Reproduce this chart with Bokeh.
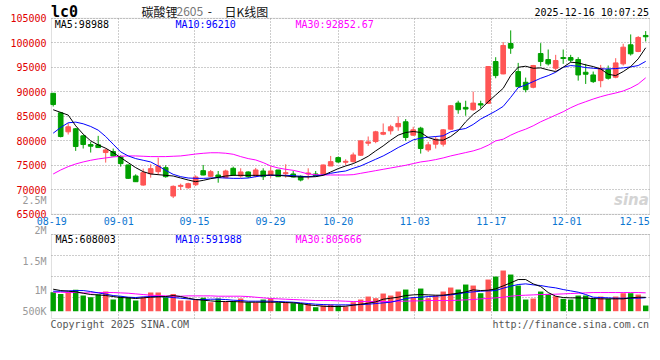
from bokeh.plotting import figure
from bokeh.models import Range1d, FixedTicker, Label, ColumnDataSource, Grid, BoxAnnotation
from bokeh.embed import file_html
from bokeh.resources import INLINE

# ---------------- data ----------------
dates = ["08-19", "08-20", "08-21", "08-22", "08-25", "08-26", "08-27", "08-28", "08-29",
         "09-01", "09-02", "09-03", "09-04", "09-05", "09-08", "09-09", "09-10", "09-11", "09-12",
         "09-15", "09-16", "09-17", "09-18", "09-19", "09-22", "09-23", "09-24", "09-25", "09-26",
         "09-29", "09-30", "10-09", "10-10", "10-13", "10-14", "10-15", "10-16", "10-17",
         "10-20", "10-21", "10-22", "10-23", "10-24", "10-27", "10-28", "10-29", "10-30", "10-31",
         "11-03", "11-04", "11-05", "11-06", "11-07", "11-10", "11-11", "11-12", "11-13", "11-14",
         "11-17", "11-18", "11-19", "11-20", "11-21", "11-24", "11-25", "11-26", "11-27", "11-28",
         "12-01", "12-02", "12-03", "12-04", "12-05", "12-08", "12-09", "12-10", "12-11", "12-12",
         "12-15", "12-16"]

opens = [89700, 85700, 81830, 82450, 81010, 79240, 79170, 77600, 77800, 76710,
         75070, 72820, 70970, 73290, 73700, 74520, 68720, 70700, 70420, 71040,
         73910, 72750, 73020, 72480, 74390, 72820, 73640, 72820, 73840, 72950,
         74050, 73290, 73230, 72750, 73230, 73230, 73160, 74860, 76570, 75620,
         75750, 77050, 79510, 79850, 81350, 82040, 82860, 83880, 81150, 82580,
         78140, 79310, 79310, 82380, 87700, 86820, 86340, 87570, 87640, 96180,
         93650, 99860, 94130, 91940, 90920, 97810, 96580, 94810, 96990, 96990,
         96580, 93990, 93440, 92280, 94540, 92970, 95700, 99590, 98220, 101500]
highs = [89700, 85900, 83600, 82600, 81220, 79780, 81010, 78420, 78420, 77050,
         75140, 73160, 74320, 75210, 76570, 75000, 70900, 71250, 71450, 72950,
         75070, 74050, 73840, 74110, 74730, 74390, 73770, 74460, 74390, 74730,
         74050, 75210, 73840, 72950, 74390, 73840, 75140, 76910, 76780, 76230,
         77600, 80000, 80880, 82040, 83540, 83270, 84970, 84430, 82860, 82860,
         79780, 80880, 82380, 87300, 88180, 88180, 90030, 88180, 95220, 97060,
         100140, 102530, 95900, 92900, 95490, 99930, 98630, 97540, 98630, 97540,
         97060, 95700, 94130, 95490, 95360, 96860, 99800, 101710, 101370, 102390]
lows = [87000, 80700, 81280, 77940, 78420, 77600, 78600, 75550, 76800, 74730,
        72200, 71600, 70830, 72470, 73020, 72470, 68310, 69950, 70220, 70770,
        72950, 72540, 71450, 72340, 72820, 72480, 72410, 72540, 72000, 72480,
        72610, 72470, 72540, 71720, 72130, 72820, 73160, 74860, 75480, 75070,
        75550, 76910, 78960, 79510, 81150, 81280, 82040, 79990, 81010, 77390,
        77730, 78420, 78830, 82310, 85520, 85110, 86130, 86610, 87500, 92760,
        93580, 97750, 91050, 89890, 90710, 95220, 95360, 94330, 95700, 96040,
        92280, 91600, 91800, 90920, 92490, 92760, 95360, 97400, 98090, 100270]
closes = [87400, 80870, 82860, 78830, 79240, 78900, 78620, 78140, 76910, 75340,
          72340, 71650, 73500, 74320, 74860, 72680, 70700, 70900, 71250, 72610,
          73020, 73700, 72540, 73840, 73020, 73640, 72680, 74050, 72680, 73840,
          72680, 73500, 72610, 72000, 73430, 72820, 75070, 75750, 75680, 75820,
          77120, 79990, 79780, 81830, 81700, 82860, 83540, 80670, 82240, 78420,
          79170, 80330, 82240, 87160, 86340, 86480, 87700, 87300, 95150, 93310,
          99450, 98910, 91050, 90440, 95360, 96180, 95700, 96380, 96790, 96450,
          93440, 93580, 92080, 94810, 92760, 95900, 99110, 97750, 101090, 101230]
volumes = [833000, 760000, 833000, 936000, 687000, 614000, 731000, 863000, 512000, 658000,
           614000, 468000, 614000, 819000, 819000, 614000, 760000, 468000, 468000, 497000,
           585000, 395000, 556000, 409000, 439000, 556000, 395000, 380000, 512000, 556000,
           380000, 380000, 351000, 322000, 322000, 175000, 249000, 292000, 249000, 205000,
           395000, 512000, 643000, 570000, 775000, 687000, 863000, 950000, 614000, 994000,
           570000, 687000, 863000, 1038000, 950000, 1170000, 1126000, 789000, 1389000, 1520000,
           1784000, 1608000, 1126000, 512000, 556000, 863000, 760000, 658000, 541000, 512000,
           687000, 687000, 541000, 643000, 541000, 643000, 789000, 789000, 731000, 249000]

ma5 = [86339, 85793, 85247, 83061, 81354, 79988, 79168, 78485, 77597, 76572,
       75548, 74524, 73704, 73226, 73089, 72953, 72816, 72406, 71996, 71655,
       71928, 72270, 72543, 72816, 72953, 72953, 72953, 72953, 72953, 73021,
       72953, 72816, 72680, 72611, 72611, 72680, 72953, 73636, 74319, 74865,
       75343, 76026, 76846, 77938, 78963, 80124, 81149, 81695, 81900, 81695,
       80670, 80192, 80124, 80875, 82037, 83881, 85384, 86476, 87979, 89345,
       90711, 93306, 95013, 95218, 94809, 94877, 94467, 94126, 95013, 96038,
       95901, 95492, 95150, 94672, 93579, 93306, 94126, 95150, 96721, 98988]
ma10 = [81558, 82719, 83676, 83812, 83471, 82924, 82173, 80875, 79305, 77734,
        76914, 76368, 76026, 75685, 74865, 73977, 73157, 72680, 72406, 72338,
        72338, 72406, 72475, 72406, 72338, 72338, 72406, 72680, 72884, 72953,
        72953, 72953, 72884, 72748, 72680, 72816, 73021, 73362, 73636, 73840,
        74387, 74865, 75548, 76231, 76914, 77734, 78622, 79373, 80192, 80534,
        80739, 80875, 81012, 81832, 82242, 82515, 83334, 84427, 85247, 86066,
        87022, 88866, 90847, 91394, 92077, 92760, 93306, 93989, 95013, 95355,
        95218, 94945, 94809, 94672, 94672, 94740, 94877, 95082, 95355, 96210]
ma30 = [73226, 74045, 74728, 75275, 75685, 76026, 76299, 76504, 76709, 76846,
        76914, 76914, 76846, 76777, 76777, 76777, 76846, 76914, 77100, 77300,
        77450, 77560, 77560, 77460, 77255, 76777, 76368, 76094, 75548, 74865,
        74455, 74182, 73977, 73636, 73226, 73089, 73021, 73021, 73021, 73021,
        73089, 73362, 73636, 73909, 74182, 74455, 74728, 75002, 75343, 75685,
        75890, 76163, 76504, 76914, 77255, 77597, 77938, 78417, 79100, 79988,
        80329, 81149, 81832, 82378, 83061, 83881, 84564, 85247, 85930, 86749,
        87432, 87979, 88525, 89003, 89413, 89754, 90164, 90779, 91598, 92852.67]

vol_ma5 = [965000, 906000, 877000, 848000, 789000, 731000, 716000, 687000, 643000, 599000,
           585000, 556000, 585000, 614000, 629000, 643000, 687000, 643000, 570000, 512000,
           482000, 453000, 424000, 424000, 424000, 409000, 395000, 395000, 395000, 395000,
           395000, 380000, 365000, 336000, 278000, 249000, 219000, 205000, 205000, 219000,
           263000, 307000, 351000, 409000, 526000, 570000, 614000, 687000, 716000, 731000,
           716000, 702000, 702000, 746000, 789000, 848000, 936000, 906000, 921000, 980000,
           1111000, 1243000, 1389000, 1389000, 1199000, 1082000, 819000, 658000, 599000, 585000,
           585000, 570000, 556000, 541000, 541000, 541000, 541000, 585000, 614000, 608003]
vol_ma10 = [877000, 877000, 892000, 906000, 906000, 863000, 804000, 746000, 687000, 658000,
            614000, 599000, 629000, 643000, 643000, 629000, 599000, 570000, 541000, 512000,
            512000, 526000, 526000, 512000, 482000, 468000, 439000, 439000, 439000, 439000,
            424000, 409000, 395000, 365000, 336000, 307000, 292000, 278000, 278000, 278000,
            278000, 292000, 307000, 336000, 365000, 395000, 468000, 556000, 599000, 614000,
            643000, 658000, 687000, 716000, 760000, 819000, 848000, 877000, 892000, 906000,
            1009000, 1097000, 1170000, 1199000, 1155000, 1126000, 1067000, 1023000, 950000, 892000,
            833000, 731000, 614000, 599000, 585000, 570000, 570000, 570000, 570000, 591988]
vol_ma30 = [833000, 833000, 819000, 819000, 804000, 804000, 819000, 819000, 819000, 804000,
            789000, 760000, 731000, 702000, 687000, 673000, 658000, 658000, 673000, 673000,
            673000, 673000, 658000, 658000, 658000, 658000, 643000, 614000, 585000, 556000,
            541000, 526000, 512000, 497000, 482000, 468000, 468000, 468000, 453000, 439000,
            424000, 424000, 424000, 424000, 424000, 424000, 439000, 439000, 453000, 453000,
            468000, 468000, 468000, 468000, 482000, 497000, 512000, 541000, 556000, 585000,
            614000, 658000, 687000, 702000, 716000, 731000, 731000, 746000, 760000, 775000,
            789000, 804000, 819000, 819000, 819000, 819000, 819000, 819000, 819000, 805666]

tick_labels = ["08-19", "09-01", "09-15", "09-29", "10-20", "11-03", "11-17", "12-01", "12-15"]
price_ticks = [65000, 70000, 75000, 80000, 85000, 90000, 95000, 100000, 105000]
vol_labels = ["2.5M", "2M", "1.5M", "1M", "500K"]

# ---------------- layout constants ----------------
RED = "#ff5555"
GREEN = "#00a000"
GRID = "#9a9a9a"
BORDER = "#999999"
MONO = "DejaVu Sans Mono"
W, H = 652, 352

# horizontal mapping: index units, 7.5 px per trading day
X0, X1 = -7.027, 79.907           # canvas left / right edge
PX_L, PX_R = -0.227, 79.507       # panel frame left / right
tick_pos = [-0.2, 8.75, 18.84, 28.97, 38.0, 48.2, 58.4, 68.48, 77.53]
grid_pos = [8.75, 18.84, 28.97, 38.0, 48.2, 58.4, 68.48]

# price scale (canvas top -> bottom) and volume scale on the same canvas
P_TOP, P_BOT = 108633, 36796
P_HI, P_LO = 105000, 65000        # price panel frame
V_TOP, V_BOT = 13627000, -1811000
V_HI, V_LO = 3364000, -320000     # volume panel frame
vol_grid = [605000, 1524000, 2443000]
# where the source chart prints its volume scale texts (volume units)
vol_label_y = [4842000, 3526000, 2193000, 894700, 0]

idx = list(range(len(dates)))
colors = [RED if c >= o else GREEN for o, c in zip(opens, closes)]
src = ColumnDataSource(dict(
    x=idx, o=opens, h=highs, l=lows, c=closes,
    top=[max(o, c) for o, c in zip(opens, closes)],
    bottom=[min(o, c) for o, c in zip(opens, closes)],
    vol=volumes, color=colors))

p = figure(width=W, height=H, output_backend="svg", toolbar_location=None, tools="",
           x_range=Range1d(X0, X1), y_range=Range1d(P_BOT, P_TOP), title=None,
           x_axis_location=None, y_axis_location=None, min_border=0)
p.extra_y_ranges = {"vol": Range1d(V_BOT, V_TOP)}
p.outline_line_color = None
p.background_fill_color = "white"
p.border_fill_color = "white"
p.xgrid.visible = False
p.ygrid.visible = False

HAS_CROSS = "cross_bounds" in Grid.properties()


def add_grid(dim, ticks, cross, yname="default"):
    if HAS_CROSS:
        p.add_layout(Grid(dimension=dim, ticker=FixedTicker(ticks=ticks), cross_bounds=cross,
                          grid_line_color=GRID, grid_line_dash="1 2", grid_line_width=1,
                          y_range_name=yname), "center")
    else:
        if dim == 0:
            p.segment(x0=ticks, x1=ticks, y0=[cross[0]] * len(ticks), y1=[cross[1]] * len(ticks),
                      line_color=GRID, line_dash="1 2", y_range_name=yname)
        else:
            p.segment(x0=[cross[0]] * len(ticks), x1=[cross[1]] * len(ticks), y0=ticks, y1=ticks,
                      line_color=GRID, line_dash="1 2", y_range_name=yname)


add_grid(0, grid_pos, (P_LO, P_HI))
add_grid(1, price_ticks, (PX_L, PX_R))
add_grid(0, grid_pos, (V_LO, V_HI), "vol")
add_grid(1, vol_grid + [V_HI - 20000], (PX_L, PX_R), "vol")

# panel borders
p.add_layout(BoxAnnotation(left=PX_L, right=PX_R, bottom=P_LO, top=P_HI, fill_color=None,
                           line_color=BORDER, line_width=1, level="underlay"))
p.add_layout(BoxAnnotation(left=PX_L, right=PX_R, bottom=V_LO, top=V_HI, fill_color=None,
                           line_color=BORDER, line_width=1, level="underlay", y_range_name="vol"))

# candles
p.segment(x0="x", y0="l", x1="x", y1="h", line_color="color", line_width=1, source=src)
p.vbar(x="x", width=0.62, top="top", bottom="bottom", fill_color="color",
       line_color="color", line_width=1, source=src)
p.line(idx, ma30, line_color="#ff00ff", line_width=1)
p.line(idx, ma10, line_color="#0000ff", line_width=1)
p.line(idx, ma5, line_color="#000000", line_width=1)

# volume
p.vbar(x="x", width=0.72, top="vol", bottom=0, fill_color="color", line_color=None,
       source=src, y_range_name="vol")
p.line(idx, vol_ma30, line_color="#ff00ff", line_width=1, y_range_name="vol")
p.line(idx, vol_ma10, line_color="#0000ff", line_width=1, y_range_name="vol")
p.line(idx, vol_ma5, line_color="#000000", line_width=1, y_range_name="vol")


def add_text(x, y, text, color, size="10px", font=MONO, align="left", style="normal",
             yname="default"):
    p.add_layout(Label(x=x, y=y, text=text, text_color=color, text_font=font,
                       text_font_size=size, text_align=align, text_baseline="middle",
                       text_font_style=style, y_range_name=yname))


# price axis labels
for t in price_ticks:
    add_text(-0.893, t, str(t), "#e00000", align="right")
# date labels
for t, lab in zip(tick_pos, tick_labels):
    add_text(t, 63531, lab, "#0b76d1", align="center")
# volume scale labels
for yv, lab in zip(vol_label_y, vol_labels):
    add_text(-0.893, yv, lab, "#999999", align="right", yname="vol")

# header
add_text(-0.29, 106347, "lc0", "#000000", size="15px", style="bold")
add_text(11.77, 106388, "碳酸锂", "#111111", size="12px", font="Noto Sans CJK SC")
add_text(16.44, 106388, "2605", "#777777", size="12px", font="Noto Sans CJK SC")
add_text(20.6, 106388, "-", "#111111", size="12px", font="Noto Sans CJK SC")
add_text(22.84, 106388, "日K线图", "#111111", size="12px", font="Noto Sans CJK SC")
add_text(79.43, 106245, "2025-12-16 10:07:25", "#000000", align="right")
add_text(0.21, 103796, "MA5:98988", "#000000")
add_text(16.31, 103796, "MA10:96210", "#0000ff")
add_text(32.31, 103796, "MA30:92852.67", "#ff00ff")
add_text(79.43, 68020, "sina", "#d4d4d4", size="15px", font="DejaVu Sans", align="right",
         style="bold italic")

add_text(0.31, 3158000, "MA5:608003", "#000000", yname="vol")
add_text(16.31, 3158000, "MA10:591988", "#0000ff", yname="vol")
add_text(32.31, 3158000, "MA30:805666", "#ff00ff", yname="vol")
add_text(-0.36, -583000, "Copyright 2025 SINA.COM", "#555555", yname="vol")
add_text(79.43, -583000, "http://finance.sina.com.cn", "#555555", align="right", yname="vol")

open("out.html", "w").write(file_html(p, INLINE))
